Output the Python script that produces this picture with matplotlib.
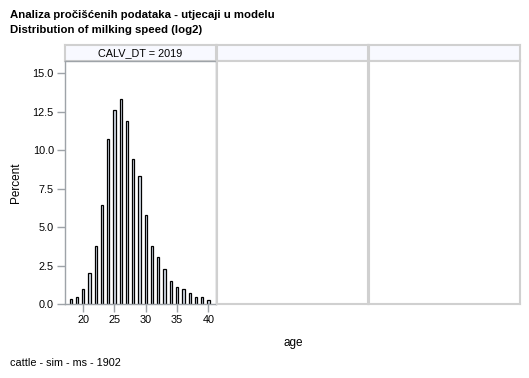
import numpy as np
import matplotlib
matplotlib.use("Agg")
import matplotlib.pyplot as plt

plt.rcParams['font.family'] = ['Liberation Sans', 'DejaVu Sans']

title1 = "Analiza pročišćenih podataka - utjecaji u modelu"
title2 = "Distribution of milking speed (log2)"
footnote = "cattle - sim - ms - 1902"
panel_label = "CALV_DT = 2019"

# histogram: age -> percent
age = np.arange(18, 41)
percent = [0.33, 0.46, 0.96, 2.02, 3.78, 6.43, 10.7, 12.57, 13.28, 11.91,
           9.42, 8.32, 5.78, 3.77, 3.04, 2.27, 1.49, 1.09, 0.96, 0.71,
           0.44, 0.44, 0.26]
yticks = [0.0, 2.5, 5.0, 7.5, 10.0, 12.5, 15.0]
xticks = [20, 25, 30, 35, 40]

W, H = 529, 378
fig = plt.figure(figsize=(W / 100, H / 100), dpi=100)

def fx(px):
    return px / W

def fy(py):
    return 1 - py / H

cols = [(65, 216), (217, 368), (369, 520)]
top, bottom, strip_top = 61, 304, 45
light = '#d0d0d0'

for i, (x0, x1) in enumerate(cols):
    # header strip
    hs = fig.add_axes([fx(x0), fy(top), fx(x1 - x0), fy(strip_top) - fy(top)])
    hs.set_facecolor('#f8f9ff')
    hs.set_xticks([])
    hs.set_yticks([])
    for s in hs.spines.values():
        s.set_color(light)
        s.set_linewidth(1.5)
    if i == 0:
        hs.text(0.5, 0.5, panel_label, ha='center', va='center', fontsize=7.8)

    ax = fig.add_axes([fx(x0), fy(bottom), fx(x1 - x0), fy(top) - fy(bottom)])
    ax.set_xlim(17.1, 41.2)
    ax.set_ylim(0, 15.78)
    if i == 0:
        ax.bar(age, percent, width=0.36, color='#d6deea', edgecolor='black',
               linewidth=0.9)
        for s in ax.spines.values():
            s.set_color('#9ea3a8')
            s.set_linewidth(1.0)
        ax.set_yticks(yticks)
        ax.set_yticklabels([f"{v:.1f}" for v in yticks])
        ax.set_xticks(xticks)
        ax.tick_params(axis='both', colors='#9ea3a8', labelcolor='black',
                       labelsize=7.8, length=6, width=1, pad=2)
    else:
        ax.set_xticks([])
        ax.set_yticks([])
        for s in ax.spines.values():
            s.set_color(light)
            s.set_linewidth(1.5)

fig.text(fx(10), fy(15), title1, fontsize=8.2, fontweight='bold', va='center')
fig.text(fx(10), fy(30), title2, fontsize=8.2, fontweight='bold', va='center')
fig.text(fx(16), fy(183), "Percent", fontsize=8.5, rotation=90,
         ha='center', va='center')
fig.text(fx(293), fy(343), "age", fontsize=8.5, ha='center', va='center')
fig.text(fx(10), fy(363), footnote, fontsize=7.8, va='center')

fig.savefig("out.png", dpi=100)
